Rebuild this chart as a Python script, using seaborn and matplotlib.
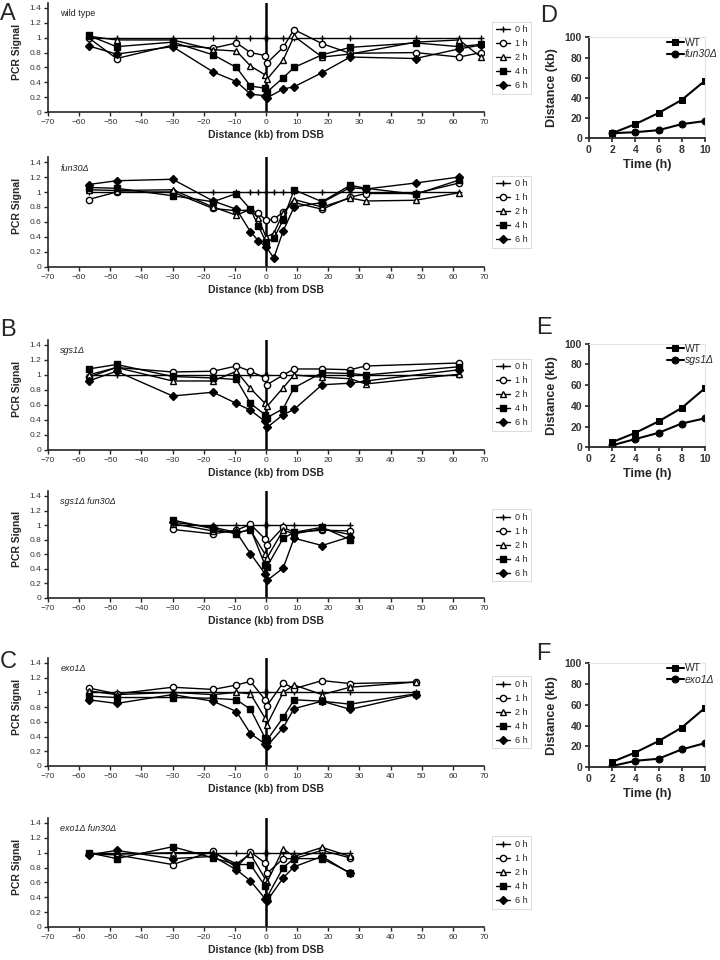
import numpy as np
import pandas as pd
import matplotlib.pyplot as plt
import seaborn as sb

sb.set_theme(style="ticks")
plt.rcParams['font.family'] = ['Liberation Sans', 'DejaVu Sans']

# PCR signal vs distance from the DSB (kb)
wt_x = [-57, -48, -30, -17, -9.5, -5, -0.3, 0.3, 5.5, 9, 18, 27, 48, 62, 69]
wt_0h = [1.0] * 15
wt_1h = [1.00, 0.72, 0.90, 0.86, 0.93, 0.80, 0.76, 0.66, 0.87, 1.11, 0.92, 0.79, 0.80, 0.74, 0.80]
wt_2h = [1.02, 0.97, 0.97, 0.84, 0.82, 0.62, 0.50, 0.44, 0.70, 1.02, 0.74, 0.78, 0.94, 0.97, 0.74]
wt_4h = [1.03, 0.88, 0.94, 0.77, 0.60, 0.35, 0.32, 0.27, 0.46, 0.60, 0.77, 0.87, 0.93, 0.88, 0.91]
wt_6h = [0.89, 0.78, 0.88, 0.54, 0.41, 0.24, 0.22, 0.19, 0.31, 0.34, 0.53, 0.74, 0.72, 0.85, 0.90]

f30_x = [-57, -48, -30, -17, -9.5, -5, -2.5, 0, 2.5, 5.5, 9, 18, 27, 32, 48, 62]
f30_0h = [1.0] * 16
f30_1h = [0.90, 1.00, 1.00, 0.78, 0.75, 0.76, 0.72, 0.62, 0.64, 0.73, 0.86, 0.77, 0.93, 0.98, 0.98, 1.12]
f30_2h = [1.03, 1.02, 1.03, 0.80, 0.69, 0.77, 0.65, 0.40, 0.45, 0.72, 0.90, 0.80, 0.92, 0.88, 0.89, 0.99]
f30_4h = [1.06, 1.05, 0.95, 0.87, 0.98, 0.77, 0.55, 0.33, 0.38, 0.63, 1.03, 0.87, 1.09, 1.05, 0.97, 1.16]
f30_6h = [1.10, 1.15, 1.17, 0.88, 0.77, 0.47, 0.35, 0.27, 0.12, 0.48, 0.80, 0.86, 1.06, 1.04, 1.12, 1.20]

sgs_x = [-57, -48, -30, -17, -9.5, -5, -0.3, 0.3, 5.5, 9, 18, 27, 32, 62]
sgs_0h = [1.0] * 14
sgs_1h = [0.97, 1.10, 1.04, 1.05, 1.12, 1.05, 0.96, 0.87, 1.00, 1.08, 1.08, 1.07, 1.12, 1.16]
sgs_2h = [1.00, 1.10, 0.92, 0.92, 1.05, 0.82, 0.62, 0.58, 0.83, 1.00, 0.97, 0.95, 0.88, 1.01]
sgs_4h = [1.08, 1.14, 0.98, 0.96, 0.94, 0.62, 0.47, 0.43, 0.55, 0.83, 1.03, 1.02, 1.00, 1.11]
sgs_6h = [0.92, 1.05, 0.72, 0.77, 0.62, 0.53, 0.38, 0.30, 0.47, 0.54, 0.87, 0.89, 0.92, 1.07]

sf_x = [-30, -17, -9.5, -5, -0.3, 0.3, 5.5, 9, 18, 27]
sf_0h = [1.0] * 10
sf_1h = [0.94, 0.88, 0.93, 1.01, 0.81, 0.73, 0.97, 0.90, 0.93, 0.92]
sf_2h = [1.02, 0.92, 0.90, 0.93, 0.60, 0.55, 0.93, 0.88, 0.95, 0.87]
sf_4h = [1.07, 0.95, 0.88, 0.95, 0.45, 0.43, 0.82, 0.90, 0.97, 0.80]
sf_6h = [1.04, 0.97, 0.90, 0.61, 0.33, 0.24, 0.41, 0.82, 0.72, 0.84]

exo_x = [-57, -48, -30, -17, -9.5, -5, -0.3, 0.3, 5.5, 9, 18, 27, 48]
exo_0h = [1.0] * 13
exo_1h = [1.06, 0.98, 1.07, 1.04, 1.10, 1.15, 0.90, 0.82, 1.13, 1.05, 1.16, 1.12, 1.14]
exo_2h = [1.02, 0.97, 1.00, 0.97, 1.00, 0.98, 0.65, 0.56, 1.00, 1.10, 0.97, 1.07, 1.14]
exo_4h = [0.95, 0.93, 0.93, 0.92, 0.90, 0.77, 0.38, 0.35, 0.66, 0.90, 0.88, 0.84, 0.98]
exo_6h = [0.90, 0.85, 0.97, 0.88, 0.74, 0.44, 0.30, 0.27, 0.52, 0.78, 0.88, 0.77, 0.97]

ef_x = [-57, -48, -30, -17, -9.5, -5, -0.3, 0.3, 5.5, 9, 18, 27]
ef_0h = [1.0] * 12
ef_1h = [0.98, 0.97, 0.84, 1.02, 0.80, 1.01, 0.86, 0.72, 0.92, 0.92, 1.03, 0.93]
ef_2h = [0.99, 0.98, 1.00, 1.00, 0.85, 0.98, 0.65, 0.60, 1.05, 0.95, 1.07, 0.95]
ef_4h = [1.00, 0.92, 1.08, 0.93, 0.84, 0.84, 0.55, 0.40, 0.80, 0.92, 0.92, 0.73]
ef_6h = [0.97, 1.03, 0.92, 0.95, 0.77, 0.62, 0.38, 0.35, 0.66, 0.81, 0.95, 0.72]

time_labels = ["0 h", "1 h", "2 h", "4 h", "6 h"]

# resection distance (kb) vs time (h)
time_h = [2, 4, 6, 8, 10]
wt_dist = [5, 14, 25, 38, 57]
fun30_dist = [5, 6, 8, 14, 17]
sgs1_dist = [2, 8, 14, 23, 28]
exo1_dist = [1, 6, 8, 17, 23]

fig = plt.figure(figsize=(7.2, 9.6), dpi=100)

marks = ['+', 'o', '^', 's', 'D']
faces = ['black', 'white', 'white', 'black', 'black']
sizes = [5, 4.5, 5, 5, 4]


def pcr_panel(rect, xs, series, name, italic=True):
    ax = fig.add_axes(rect)
    ax.axvline(0, color='black', lw=1.8, zorder=1)
    for lab, ys, mk, fc, ms in zip(time_labels, series, marks, faces, sizes):
        sb.lineplot(x=xs, y=ys, ax=ax, color='black', lw=1.0, marker=mk,
                    markerfacecolor=fc, mec='black', mew=1.0, ms=ms,
                    label=lab, estimator=None, zorder=3)
    ax.set_xlim(-70, 70)
    ax.set_ylim(0, 1.47)
    ax.set_xticks(range(-70, 71, 10))
    ax.set_yticks([0, 0.2, 0.4, 0.6, 0.8, 1.0, 1.2, 1.4])
    ax.set_yticklabels(["0", "0.2", "0.4", "0.6", "0.8", "1", "1.2", "1.4"])
    ax.tick_params(labelsize=6, length=3, width=1, labelcolor='#333333', pad=2)
    for s in ['left', 'bottom']:
        ax.spines[s].set_linewidth(1.2)
    sb.despine(ax=ax)
    ax.set_xlabel("Distance (kb) from DSB", fontsize=7.5, fontweight='bold', labelpad=3)
    ax.set_ylabel("PCR Signal", fontsize=7.5, fontweight='bold')
    ax.yaxis.set_label_coords(-0.06, 0.55)
    ax.text(-66, 1.32, name, fontsize=6.5, style='italic' if italic else 'normal',
            va='center', color='#222222')
    leg = ax.legend(loc='upper left', bbox_to_anchor=(1.008, 0.87), fontsize=6.5,
                    frameon=True, fancybox=False, edgecolor='#cccccc',
                    handlelength=1.6, labelspacing=0.55, borderpad=0.4, handletextpad=0.5)
    leg.get_frame().set_linewidth(0.6)
    return ax


def dist_panel(rect, mut, mut_label):
    ax = fig.add_axes(rect)
    sb.lineplot(x=time_h, y=wt_dist, ax=ax, color='black', lw=1.5, marker='s',
                ms=5, mec='black', label="WT", estimator=None)
    sb.lineplot(x=time_h, y=mut, ax=ax, color='black', lw=1.5, marker='o',
                ms=5, mec='black', label=mut_label, estimator=None)
    ax.set_xlim(0, 10)
    ax.set_ylim(0, 100)
    ax.set_xticks(range(0, 11, 2))
    ax.set_yticks(range(0, 101, 20))
    ax.tick_params(labelsize=7.5, length=3, width=1.2, labelcolor='#333333', pad=2)
    for lab in ax.get_xticklabels() + ax.get_yticklabels():
        lab.set_fontweight('bold')
    for s in ['left', 'bottom']:
        ax.spines[s].set_linewidth(1.3)
    for s in ['top', 'right']:
        ax.spines[s].set_color('#e4e4e4')
        ax.spines[s].set_linewidth(0.8)
    ax.set_xlabel("Time (h)", fontsize=9, fontweight='bold', labelpad=3)
    ax.set_ylabel("Distance (kb)", fontsize=9, fontweight='bold')
    ax.yaxis.set_label_coords(-0.27, 0.5)
    leg = ax.legend(loc='upper left', bbox_to_anchor=(0.62, 1.06), frameon=False,
                    fontsize=7.5, handlelength=1.6, labelspacing=0.15,
                    handletextpad=0.1, borderpad=0.1)
    leg.get_texts()[1].set_fontstyle('italic')
    return ax


pcr_panel([0.0667, 0.8833, 0.6056, 0.1138], wt_x, [wt_0h, wt_1h, wt_2h, wt_4h, wt_6h], "wild type", italic=False)
pcr_panel([0.0667, 0.7219, 0.6056, 0.1148], f30_x, [f30_0h, f30_1h, f30_2h, f30_4h, f30_6h], "fun30Δ")
pcr_panel([0.0667, 0.5313, 0.6056, 0.1148], sgs_x, [sgs_0h, sgs_1h, sgs_2h, sgs_4h, sgs_6h], "sgs1Δ")
pcr_panel([0.0667, 0.3771, 0.6056, 0.1116], sf_x, [sf_0h, sf_1h, sf_2h, sf_4h, sf_6h], "sgs1Δ fun30Δ")
pcr_panel([0.0667, 0.2021, 0.6056, 0.1127], exo_x, [exo_0h, exo_1h, exo_2h, exo_4h, exo_6h], "exo1Δ")
pcr_panel([0.0667, 0.0344, 0.6056, 0.1138], ef_x, [ef_0h, ef_1h, ef_2h, ef_4h, ef_6h], "exo1Δ fun30Δ")

dist_panel([0.818, 0.856, 0.161, 0.105], fun30_dist, "fun30Δ")
dist_panel([0.818, 0.534, 0.161, 0.108], sgs1_dist, "sgs1Δ")
dist_panel([0.818, 0.201, 0.161, 0.108], exo1_dist, "exo1Δ")

for letter, x, y in [("A", 0.0, 0.997), ("B", 0.0, 0.668), ("C", 0.0, 0.322),
                     ("D", 0.75, 0.995), ("E", 0.745, 0.67), ("F", 0.745, 0.33)]:
    fig.text(x, y, letter, fontsize=17, va='top', ha='left')

fig.savefig("out.png", dpi=100)
